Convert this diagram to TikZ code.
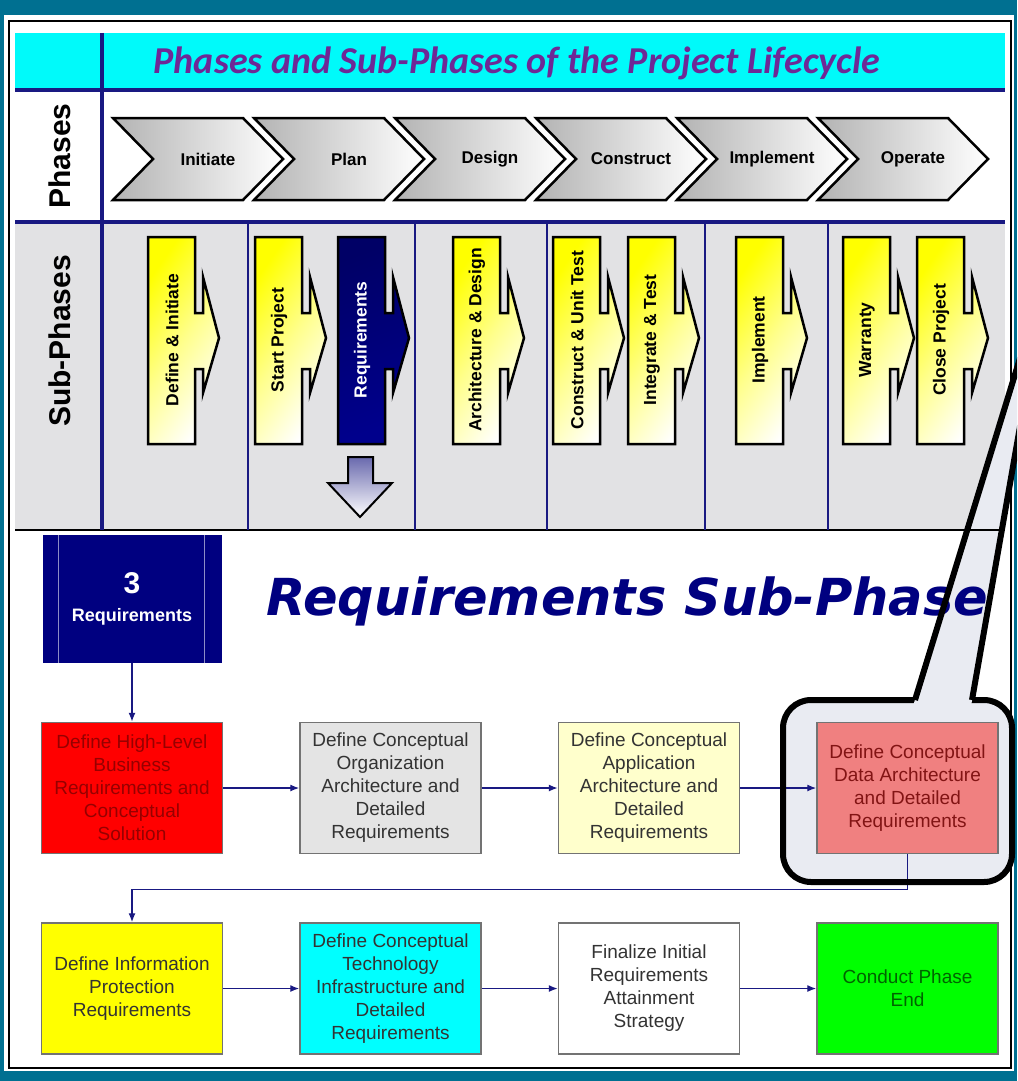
\documentclass[tikz,border=0pt]{standalone}
\usepackage{fontspec}
\setmainfont{Liberation Sans}
\newfontfamily\bannerfont{Carlito}
\newfontfamily\headingfont{DejaVu Sans}
\usetikzlibrary{positioning,arrows.meta}

\definecolor{frameteal}{RGB}{0,112,145}
\definecolor{bandcyan}{RGB}{0,250,250}
\definecolor{gridnavy}{RGB}{25,25,130}
\definecolor{bannerpurple}{RGB}{110,40,150}
\definecolor{rowgray}{RGB}{226,226,228}
\definecolor{reqnavy}{RGB}{0,0,128}
\definecolor{calloutbg}{RGB}{233,235,242}
\definecolor{boxred}{RGB}{255,0,0}
\definecolor{boxgray}{RGB}{228,228,228}
\definecolor{boxcream}{RGB}{255,255,204}
\definecolor{boxpink}{RGB}{240,128,128}
\definecolor{boxyellow}{RGB}{255,255,0}
\definecolor{boxcyan}{RGB}{0,255,255}
\definecolor{boxgreen}{RGB}{0,255,0}
\definecolor{txtred}{RGB}{150,0,0}
\definecolor{txtrose}{RGB}{130,20,20}
\definecolor{txtgreen}{RGB}{0,100,0}

\tikzset{
    chevron/.pic={
      \path[left color=gray!60, right color=white, draw=black, line width=2.5pt]
        (0,0) -- (130,0) -- (170,41) -- (130,82) -- (0,82) -- (40,41) -- cycle;
    }}
\tikzset{
    subphase/.pic={
      \path[subshade, draw=black, line width=2.5pt]
        (0,0) -- (47,0) -- (47,76) -- (55,76) -- (55,40) -- (71,101)
        -- (55,156) -- (55,132) -- (47,132) -- (47,207) -- (0,207) -- cycle;
    }}
\tikzset{
    subshade/.style={top color=yellow, bottom color=white, middle color=yellow!45, shading angle=55},
    phaselbl/.style={font=\fontsize{17}{17}\selectfont\bfseries},
    sublbl/.style={font=\fontsize{17.5}{17.5}\selectfont\bfseries, rotate=90},
    rowlbl/.style={font=\fontsize{30}{30}\selectfont\bfseries, rotate=90},
    task/.style={draw=black!55, line width=1.5pt, minimum width=181pt, minimum height=131pt,
      align=center, inner sep=0pt, text=black!80, font=\fontsize{19}{23}\selectfont},
    flow/.style={draw=gridnavy, line width=1.3pt, -{Latex[length=9pt,width=7pt]}},
    callout/.style={draw=black, line width=6pt}
}

\begin{document}
\begin{tikzpicture}[x=1pt, y=-1pt]
    \useasboundingbox (0,0) rectangle (1017,1081);
    \clip (0,0) rectangle (1017,1081);
    \fill[frameteal] (0,0) rectangle (1017,1081);
    \fill[white] (4,15) rectangle (1014,1071);
    \draw[black, line width=2.5pt] (9,21) rectangle (1011,1068);

    % table: banner, phase row, sub-phase row
    \fill[bandcyan] (15,33) rectangle (1005,90);
    \fill[rowgray] (15,222) rectangle (1005,530);
    \fill[calloutbg] (915,700) -- (1048,267) -- (972,700) -- cycle;
    \fill[calloutbg, rounded corners=28pt] (783,700) rectangle (1012,882);
    \draw[black, line width=2pt] (15,530) -- (1005,530);
    \foreach \x in {248,415,547,705,828}
      \draw[gridnavy, line width=1.2pt] (\x,222) -- (\x,530);
    \draw[gridnavy, line width=4pt] (15,90) -- (1005,90) (15,222) -- (1005,222) (102,33) -- (102,530);
    \node[font=\bannerfont\fontsize{38}{38}\selectfont\bfseries\itshape, text=bannerpurple] (banner)
      at (517,63) {Phases and Sub-Phases of the Project Lifecycle};
    \node[rowlbl] (phaseslbl) at (60,156) {Phases};
    \node[rowlbl] (subphaseslbl) at (60,341) {Sub-Phases};

    \foreach \lbl [count=\i from 0] in {Initiate,Plan,Design,Construct,Implement,Operate} {
      \pic at ({113+141*\i},118) {chevron};
      \node[phaselbl] (phase\i) at ({208+141*\i},159) {\lbl};
    }

    \foreach \x/\lbl in {148/Define \& Initiate, 255/Start Project, 453/Architecture \& Design,
        553/Construct \& Unit Test, 628/Integrate \& Test, 736/Implement, 843/Warranty, 917/Close Project} {
      \pic at (\x,237) {subphase};
      \node[sublbl] (sp\x) at ({\x+24},340) {\lbl};
    }
    \pic[subshade/.style={top color=reqnavy!80!black, bottom color=blue!55!black, shading angle=20}]
      at (338,237) {subphase};
    \node[sublbl, text=white] (sp338) at (362,340) {Requirements};
    \path[top color=gridnavy!65, bottom color=white, draw=black, line width=2pt]
      (348,457) -- (373,457) -- (373,483) -- (392,483) -- (360,517) -- (328,483) -- (348,483) -- cycle;

    % requirements sub-phase flow
    \node[fill=reqnavy, minimum width=179pt, minimum height=128pt, inner sep=0pt, text=white,
      align=center, font=\bfseries\fontsize{18}{28}\selectfont] (req) at (132,599)
      {{\fontsize{30}{30}\selectfont 3}\\Requirements};
    \draw[white!55!reqnavy, line width=1pt] ([xshift=16pt]req.north west) -- ([xshift=16pt]req.south west)
      ([xshift=-17pt]req.north east) -- ([xshift=-17pt]req.south east);
    \node[font=\headingfont\fontsize{51}{51}\selectfont\bfseries\itshape, text=reqnavy, anchor=base west]
      (subtitle) at (263,615) {Requirements Sub-Phase};

    \node[task, fill=boxred, text=txtred] (r1) at (132,788)
      {Define High-Level\\Business\\Requirements and\\Conceptual\\Solution};
    \node[task, fill=boxgray, right=76pt of r1] (r2)
      {Define Conceptual\\Organization\\Architecture and\\Detailed\\Requirements};
    \node[task, fill=boxcream, right=76pt of r2] (r3)
      {Define Conceptual\\Application\\Architecture and\\Detailed\\Requirements};
    \node[task, fill=boxpink, text=txtrose, right=76pt of r3] (r4)
      {Define Conceptual\\Data Architecture\\and Detailed\\Requirements};
    \node[task, fill=boxyellow, below=68pt of r1] (r5)
      {Define Information\\Protection\\Requirements};
    \node[task, fill=boxcyan, right=76pt of r5] (r6)
      {Define Conceptual\\Technology\\Infrastructure and\\Detailed\\Requirements};
    \node[task, fill=white, right=76pt of r6] (r7)
      {Finalize Initial\\Requirements\\Attainment\\Strategy};
    \node[task, fill=boxgreen, text=txtgreen, right=76pt of r7] (r8) {Conduct Phase\\End};

    \draw[flow] (req) -- (r1);
    \draw[flow] (r1) -- (r2);
    \draw[flow] (r2) -- (r3);
    \draw[flow] (r3) -- (r4);
    \draw[flow] (r4.south) -- ++(0,35) -| (r5.north);
    \draw[flow] (r5) -- (r6);
    \draw[flow] (r6) -- (r7);
    \draw[flow] (r7) -- (r8);

    % callout round the data architecture step
    \draw[callout, rounded corners=28pt] (783,700) rectangle (1012,882);
    \fill[calloutbg] (913,706) -- (918,690) -- (974,690) -- (971,706) -- cycle;
    \draw[callout] (915,700) -- (1048,267) (972,700) -- (1048,267);
\end{tikzpicture}
\end{document}
